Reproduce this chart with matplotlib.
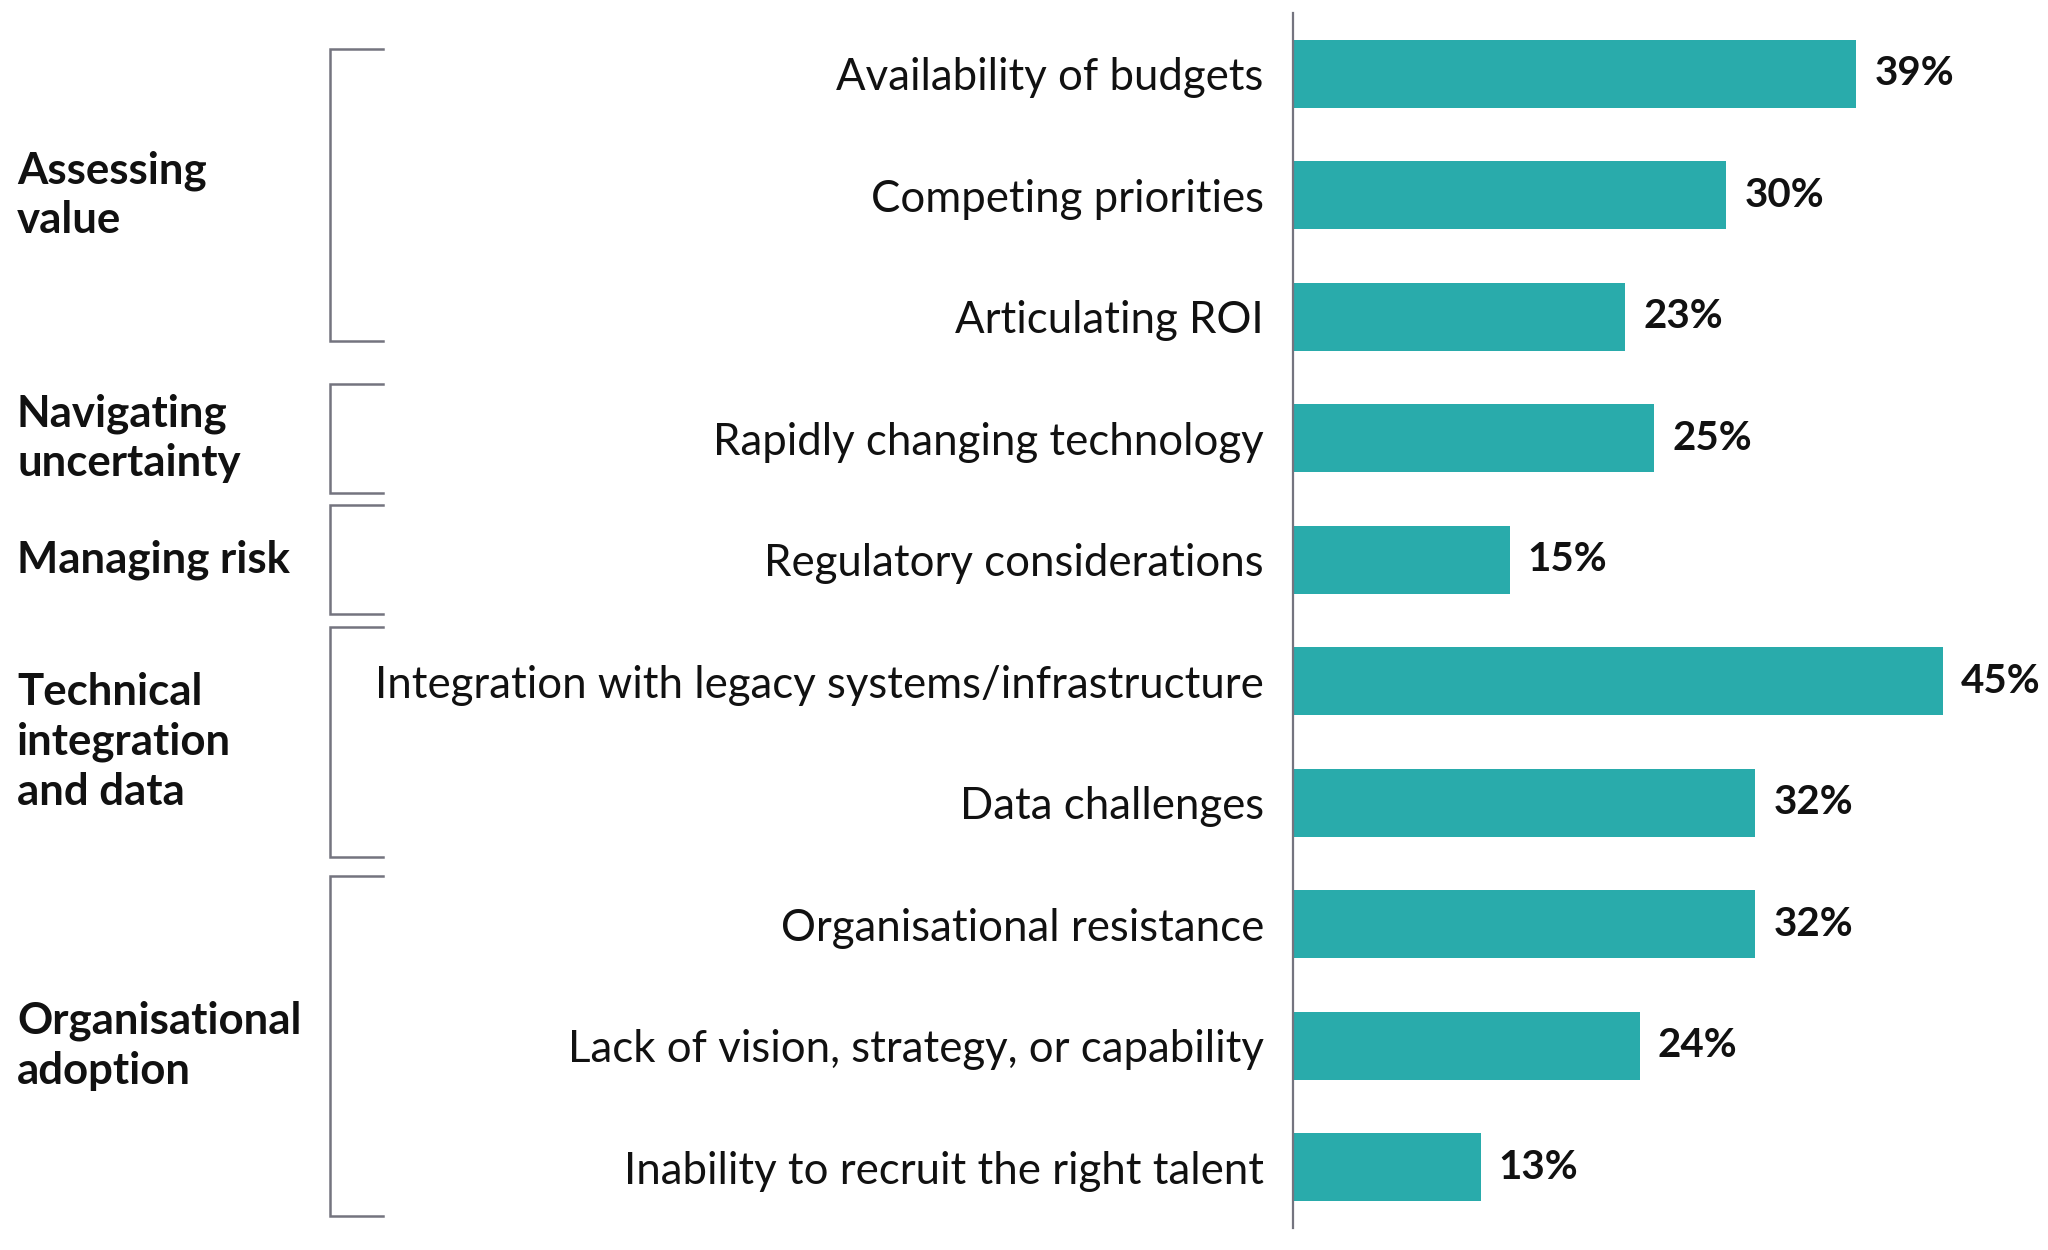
import matplotlib
matplotlib.use("Agg")
import matplotlib.pyplot as plt
from matplotlib.transforms import blended_transform_factory

categories = [
    "Availability of budgets",
    "Competing priorities",
    "Articulating ROI",
    "Rapidly changing technology",
    "Regulatory considerations",
    "Integration with legacy systems/infrastructure",
    "Data challenges",
    "Organisational resistance",
    "Lack of vision, strategy, or capability",
    "Inability to recruit the right talent",
]
values = [39, 30, 23, 25, 15, 45, 32, 32, 24, 13]
value_labels = [f"{v}%" for v in values]

groups = [
    "Assessing\nvalue",
    "Navigating\nuncertainty",
    "Managing risk",
    "Technical\nintegration\nand data",
    "Organisational\nadoption",
]
group_first = [0, 3, 4, 5, 7]
group_last = [2, 3, 4, 6, 9]

BAR = "#29abab"
GRAY = "#74747f"
TXT = "#111111"
plt.rcParams["font.family"] = ["Lato", "DejaVu Sans"]

fig = plt.figure(figsize=(20.48, 12.5), dpi=100)
ax = fig.add_axes([1293 / 2048, 1 - 1228 / 1250, 0.3667, 1215 / 1250])

y = list(range(len(categories)))
ax.barh(y, values, height=0.56, color=BAR)
ax.set_xlim(0, 52)
ax.set_ylim(len(categories) - 0.5, -0.5)
ax.set_yticks(y)
ax.set_yticklabels(categories, fontsize=31.5, color=TXT)
ax.tick_params(axis="y", length=0, pad=21)
ax.tick_params(axis="x", bottom=False, labelbottom=False)
for s in ["top", "right", "bottom"]:
    ax.spines[s].set_visible(False)
ax.spines["left"].set_color(GRAY)
ax.spines["left"].set_linewidth(1.6)

for yi, v, lab in zip(y, values, value_labels):
    ax.annotate(lab, (v, yi), xytext=(13, 0), textcoords="offset points",
                va="center", ha="left", fontsize=29, fontweight="bold", color=TXT)

tr = blended_transform_factory(fig.transFigure, ax.transData)
bx0 = 330 / 2048
bx1 = 383 / 2048
pads = [0.2, 0.45, 0.45, 0.45, 0.4]
for g, a, b, p in zip(groups, group_first, group_last, pads):
    top = a - p
    bot = b + p
    ax.plot([bx1, bx0, bx0, bx1], [top, top, bot, bot], transform=tr,
            color=GRAY, lw=1.8, clip_on=False, solid_joinstyle="miter")
    ax.text(17 / 2048, (top + bot) / 2, g, transform=tr, ha="left", va="center",
            fontsize=31.5, fontweight="bold", color=TXT, linespacing=1.3)

fig.savefig("out.png", dpi=100, facecolor="white")
